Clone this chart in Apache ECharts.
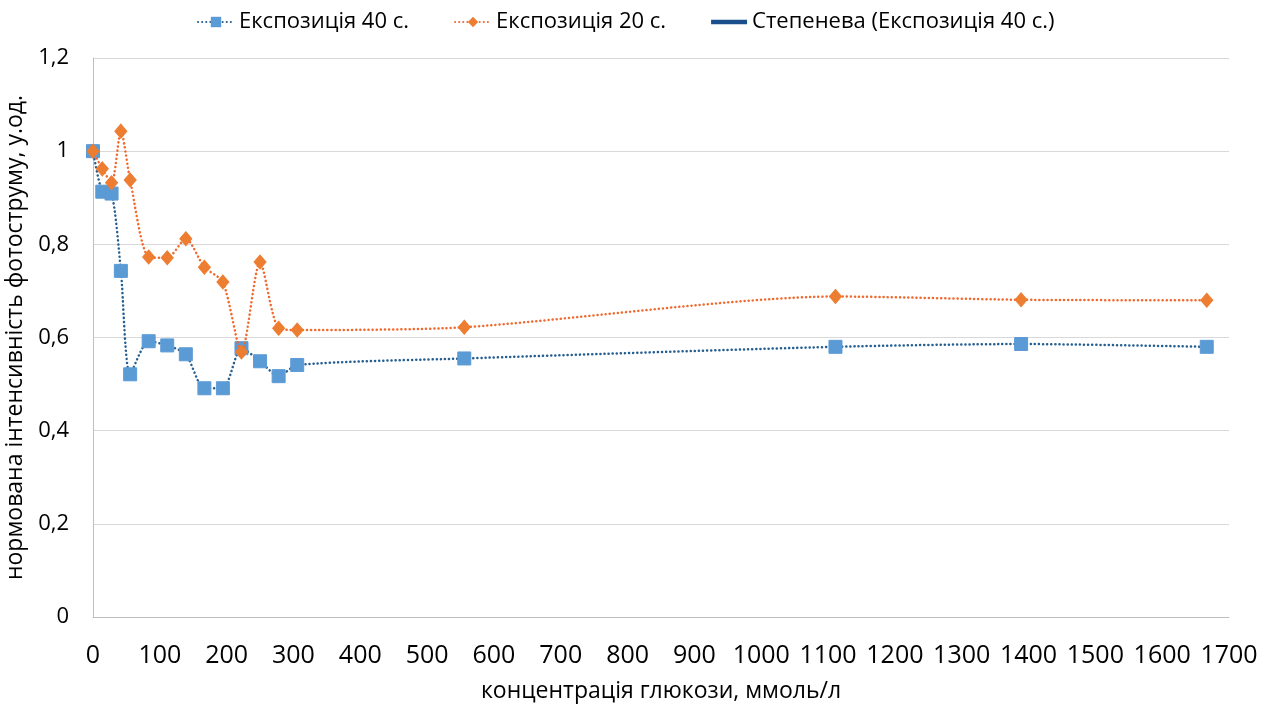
<!DOCTYPE html>
<html>
<head>
<meta charset="utf-8">
<script src="https://cdn.jsdelivr.net/npm/echarts@6/dist/echarts.min.js"></script>
<style>html,body{margin:0;padding:0;background:#fff}#c{width:1275px;height:707px}</style>
</head>
<body>
<div id="c"></div>
<script>
var concentrations = [0, 13.9, 27.8, 41.7, 55.6, 83.3, 111.1, 138.9, 166.7, 194.4, 222.2, 250, 277.8, 305.6, 555.6, 1111.1, 1388.9, 1666.7];
var exposure40 = [1.0, 0.913, 0.909, 0.743, 0.521, 0.592, 0.583, 0.564, 0.491, 0.491, 0.577, 0.549, 0.517, 0.541, 0.555, 0.580, 0.586, 0.580];
var exposure20 = [1.0, 0.962, 0.932, 1.043, 0.938, 0.773, 0.771, 0.812, 0.751, 0.719, 0.569, 0.762, 0.620, 0.616, 0.622, 0.688, 0.681, 0.680];
var seriesNames = ['Експозиція 40 с.', 'Експозиція 20 с.', 'Степенева (Експозиція 40 с.)'];
var xTitle = 'концентрація глюкози, ммоль/л';
var yTitle = 'нормована інтенсивність фотоструму, у.од.';

function pairs(xs, ys) { return xs.map(function (x, i) { return [x, ys[i]]; }); }

var FONT = "'Open Sans', sans-serif";
var chart = echarts.init(document.getElementById('c'), null, { renderer: 'canvas' });
chart.setOption({
  animation: false,
  backgroundColor: '#ffffff',
  textStyle: { fontFamily: FONT, color: '#000' },
  legend: {
    top: 6,
    left: 192,
    itemGap: 45,
    itemWidth: 36,
    itemHeight: 13,
    textStyle: { fontSize: 22, color: '#000', fontFamily: FONT },
    data: [
      { name: seriesNames[0] },
      { name: seriesNames[1] },
      { name: seriesNames[2], icon: 'path://M0,0 L40,0 L40,5 L0,5 Z' }
    ]
  },
  grid: { left: 93, right: 46, top: 58, bottom: 90, containLabel: false, outerBoundsMode: 'none' },
  xAxis: {
    type: 'value', min: 0, max: 1700, interval: 100,
    name: xTitle, nameLocation: 'middle', nameGap: 63,
    nameTextStyle: { fontSize: 23, color: '#000', fontFamily: FONT },
    axisLine: { show: true, lineStyle: { color: '#BFBFBF', width: 1 } },
    axisTick: { show: false },
    splitLine: { show: false },
    axisLabel: {
      fontSize: 25, color: '#000', margin: 26, fontFamily: FONT,
      formatter: function (v) { return String(v); }
    }
  },
  yAxis: {
    type: 'value', min: 0, max: 1.2, interval: 0.2,
    name: yTitle, nameLocation: 'middle', nameGap: 58, nameRotate: 90,
    nameTextStyle: { fontSize: 23, color: '#000', fontFamily: FONT },
    axisLine: { show: true, lineStyle: { color: '#BFBFBF', width: 1 } },
    axisTick: { show: false },
    splitLine: { show: true, lineStyle: { color: '#D9D9D9', width: 1 } },
    axisLabel: {
      fontSize: 22, color: '#000', margin: 24, fontFamily: FONT,
      formatter: function (v) { return String(Math.round(v * 10) / 10).replace('.', ','); }
    }
  },
  series: [
    {
      name: seriesNames[0], type: 'line', data: pairs(concentrations, exposure40),
      smooth: 0.25, symbol: 'rect', symbolSize: 13,
      itemStyle: { color: '#5B9BD5', borderColor: '#5B9BD5' },
      lineStyle: { color: '#255E91', width: 2.5, type: [0.1, 4], cap: 'round' },
      z: 2
    },
    {
      name: seriesNames[1], type: 'line', data: pairs(concentrations, exposure20),
      smooth: 0.25, symbol: 'diamond', symbolSize: [12, 14],
      itemStyle: { color: '#ED7D31', borderColor: '#ED7D31' },
      lineStyle: { color: '#F0692E', width: 2.5, type: [0.1, 4], cap: 'round' },
      z: 3
    },
    {
      name: seriesNames[2], type: 'line', data: [],
      symbol: 'none',
      itemStyle: { color: '#1A4F8B' },
      lineStyle: { color: '#1A4F8B', width: 4 }
    }
  ]
});
</script>
</body>
</html>
